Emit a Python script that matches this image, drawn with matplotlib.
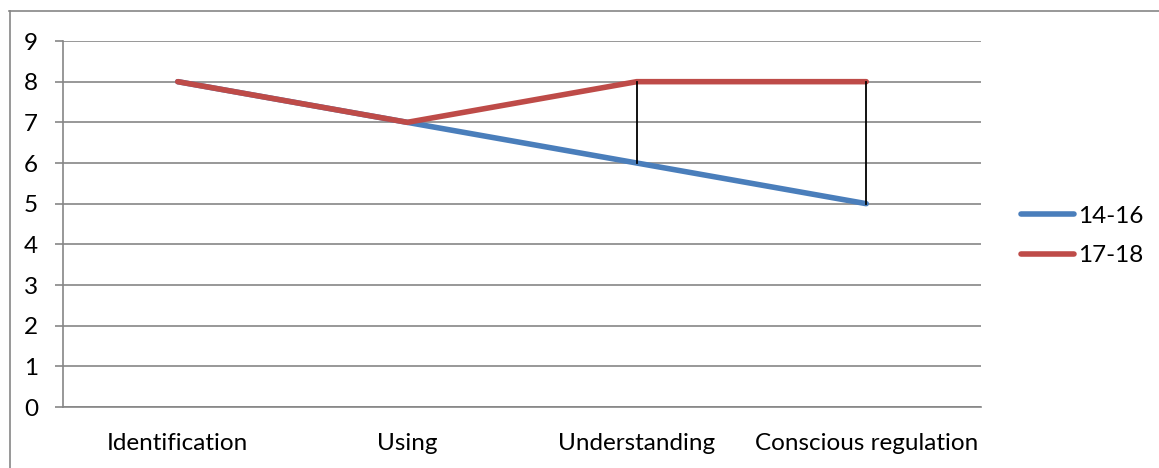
import matplotlib
matplotlib.use("Agg")
import matplotlib.pyplot as plt
from matplotlib.lines import Line2D

categories = ["Identification", "Using", "Understanding", "Conscious regulation"]
series_names = ["14-16", "17-18"]
values_1416 = [8, 7, 6, 5]
values_1718 = [8, 7, 8, 8]
y_ticks = [0, 1, 2, 3, 4, 5, 6, 7, 8, 9]

plt.rcParams['font.family'] = ['Lato', 'DejaVu Sans']

W, H = 1159, 468
fig = plt.figure(figsize=(W / 100, H / 100), dpi=100)
ax = fig.add_axes([63 / W, 1 - 407 / H, (981 - 63) / W, (407 - 41) / H])

x = list(range(len(categories)))
blue = "#4a7ebb"
red = "#be4b48"

# high-low lines
for xi, a, b in zip(x, values_1416, values_1718):
    if a != b:
        ax.plot([xi, xi], [min(a, b), max(a, b)], color="black", lw=1.3, zorder=4)

ax.plot(x, values_1416, color=blue, lw=4, solid_capstyle="round", zorder=3, label=series_names[0])
ax.plot(x, values_1718, color=red, lw=4, solid_capstyle="round", zorder=3, label=series_names[1])

FS = 17.5
ax.set_xlim(-0.5, len(categories) - 0.5)
ax.set_ylim(0, 9)
ax.set_yticks(y_ticks)
ax.set_yticklabels([str(t) for t in y_ticks], fontsize=FS)
ax.set_xticks(x)
ax.set_xticklabels(categories, fontsize=FS)
ax.tick_params(axis='x', length=0, pad=19)
ax.grid(axis='y', color="#868686", lw=1.2)
ax.set_axisbelow(True)
for s in ["top", "right"]:
    ax.spines[s].set_visible(False)
ax.spines["left"].set_color("#868686")
ax.spines["bottom"].set_color("#868686")
ax.spines["left"].set_linewidth(1.2)
ax.spines["bottom"].set_linewidth(1.2)
for lab in ax.get_yticklabels():
    lab.set_horizontalalignment("center")
ax.tick_params(axis='y', length=6, color="#868686", width=1.2, pad=17)

handles = [Line2D([0], [0], color=blue, lw=4, solid_capstyle="round"),
           Line2D([0], [0], color=red, lw=4, solid_capstyle="round")]
fig.legend(handles, series_names, loc="center left", bbox_to_anchor=(999 / W, 1 - 236 / H),
           frameon=False, fontsize=FS, handlelength=2.2, handletextpad=0.15, labelspacing=0.75)

# outer border (top and left visible)
fig.add_artist(Line2D([9 / W, 1.0], [1 - 10.5 / H, 1 - 10.5 / H], color="#868686", lw=1.2, transform=fig.transFigure))
fig.add_artist(Line2D([9.5 / W, 9.5 / W], [0, 1 - 10.5 / H], color="#868686", lw=1.2, transform=fig.transFigure))

fig.savefig("out.png", dpi=100, facecolor="white")
